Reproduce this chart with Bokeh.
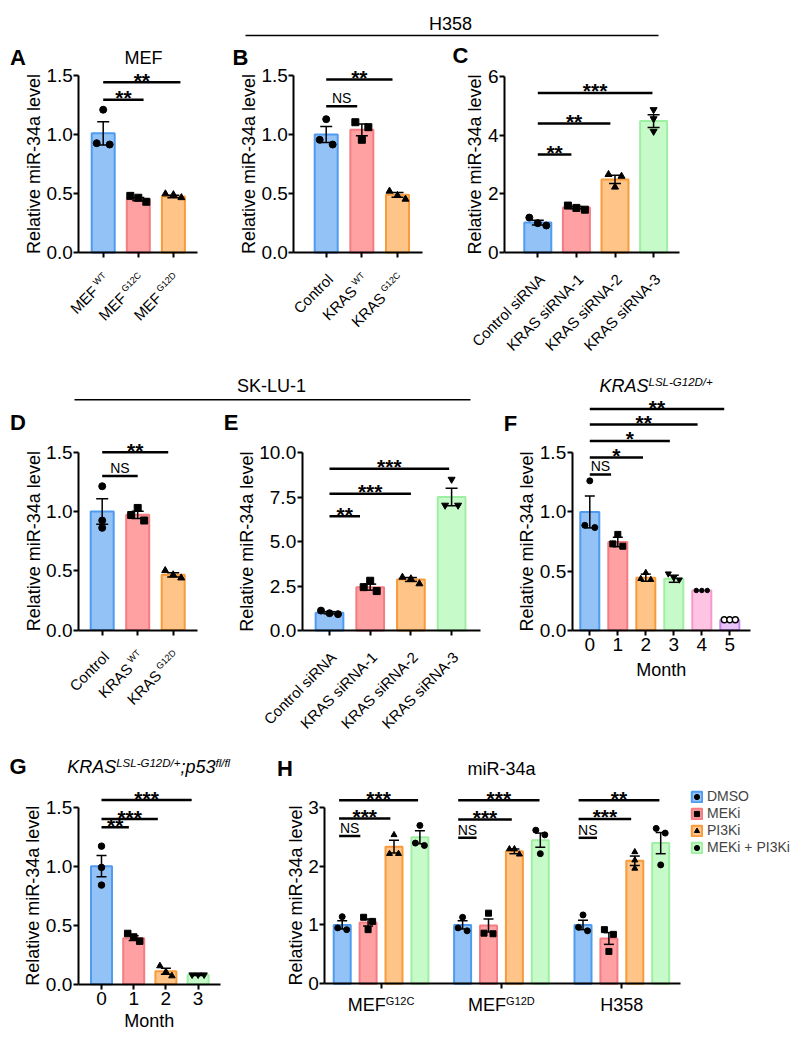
import math
from bokeh.plotting import figure
from bokeh.models import (Range1d, FixedTicker, NumeralTickFormatter, Label, LabelSet,
                          ColumnDataSource, Legend, LegendItem)
from bokeh.layouts import row, column
from bokeh.embed import file_html
from bokeh.resources import INLINE
from bokeh.core.properties import value

FONT = "Liberation Sans"
YLABEL = "Relative miR-34a level"

# ======================= DATA =======================
# A  MEF
A_names = ["MEF", "MEF", "MEF"]
A_sups = ["WT", "G12C", "G12D"]
A_mean = [1.01, 0.452, 0.475]
A_sem = [0.098, 0.014, 0.010]
A_pts = [[1.21, 0.926, 0.915], [0.48, 0.464, 0.43], [0.497, 0.49, 0.465]]
A_sig = [(0, 1.15, 1.294, "**"), (0, 2.2, 1.443, "**")]

# B  H358 overexpression
B_names = ["Control", "KRAS", "KRAS"]
B_sups = ["", "WT", "G12C"]
B_mean = [1.0, 1.04, 0.489]
B_sem = [0.068, 0.05, 0.02]
B_pts = [[1.13, 0.955, 0.915], [1.104, 1.062, 0.955], [0.52, 0.483, 0.452]]
B_sig = [(0, 0.87, 1.24, "NS"), (0, 1.86, 1.466, "**")]

# C  H358 siRNA
C_names = ["Control siRNA", "KRAS siRNA-1", "KRAS siRNA-2", "KRAS siRNA-3"]
C_sups = ["", "", "", ""]
C_mean = [1.02, 1.53, 2.49, 4.48]
C_sem = [0.08, 0.04, 0.14, 0.22]
C_pts = [[1.19, 1.0, 0.92], [1.6, 1.52, 1.46], [2.66, 2.6, 2.23], [4.87, 4.56, 4.13]]
C_sig = [(0, 0.87, 3.34, "**"), (0, 1.88, 4.40, "**"), (0, 2.97, 5.44, "***")]

# D  SK-LU-1 overexpression
D_names = ["Control", "KRAS", "KRAS"]
D_sups = ["", "WT", "G12D"]
D_mean = [1.0, 0.972, 0.466]
D_sem = [0.107, 0.03, 0.018]
D_pts = [[1.213, 0.924, 0.862], [1.03, 0.97, 0.924], [0.502, 0.466, 0.44]]
D_sig = [(0, 1.0, 1.30, "NS"), (0, 1.86, 1.5, "**")]

# E  SK-LU-1 siRNA
E_names = ["Control siRNA", "KRAS siRNA-1", "KRAS siRNA-2", "KRAS siRNA-3"]
E_sups = ["", "", "", ""]
E_mean = [1.0, 2.44, 2.87, 7.51]
E_sem = [0.06, 0.17, 0.11, 0.49]
E_pts = [[1.12, 0.97, 0.92], [2.8, 2.44, 2.22], [3.0, 2.91, 2.63], [8.51, 7.05, 7.05]]
E_sig = [(0, 0.75, 6.43, "**"), (0, 2.0, 7.7, "***"), (0, 2.94, 9.1, "***")]

# F  KRAS LSL-G12D/+ by month
F_months = [0, 1, 2, 3, 4, 5]
F_mean = [1.0, 0.746, 0.444, 0.435, 0.336, 0.088]
F_sem = [0.135, 0.04, 0.03, 0.03, 0.0, 0.0]
F_pts = [[1.263, 0.887, 0.868], [0.81, 0.73, 0.71], [0.486, 0.435, 0.427],
         [0.478, 0.444, 0.427], [0.336, 0.336, 0.336], [0.088, 0.088, 0.088]]
F_sig = [(0, 0.76, 1.317, "NS"), (0, 1.9, 1.46, "*"), (0, 2.86, 1.6, "*"),
         (0, 3.85, 1.74, "**"), (0, 4.8, 1.87, "**")]

# G  KRAS LSL-G12D/+;p53 fl/fl by month
G_months = [0, 1, 2, 3]
G_mean = [1.0, 0.39, 0.11, 0.077]
G_sem = [0.09, 0.02, 0.025, 0.004]
G_pts = [[1.17, 0.99, 0.84], [0.43, 0.40, 0.365], [0.155, 0.105, 0.07], [0.08, 0.08, 0.08]]
G_sig = [(0, 0.85, 1.33, "**"), (0, 1.75, 1.40, "***"), (0, 2.8, 1.56, "***")]

# H  inhibitors
H_groups = ["MEF", "MEF", "H358"]
H_group_sups = ["G12C", "G12D", ""]
H_treat = ["DMSO", "MEKi", "PI3Ki", "MEKi + PI3Ki"]
H_mean = [[1.0, 1.0, 1.0], [1.04, 0.99, 0.77], [2.33, 2.25, 2.09], [2.49, 2.44, 2.39]]
H_sem = [[0.07, 0.07, 0.08], [0.06, 0.11, 0.10], [0.11, 0.04, 0.08], [0.11, 0.12, 0.18]]
H_pts = [
    [[1.14, 0.95, 0.92], [1.13, 0.95, 0.90], [1.17, 0.96, 0.90]],
    [[1.13, 1.06, 0.92], [1.20, 0.86, 0.85], [0.92, 0.84, 0.55]],
    [[2.53, 2.21, 2.21], [2.29, 2.29, 2.20], [2.24, 2.10, 1.96]],
    [[2.69, 2.39, 2.35], [2.61, 2.53, 2.21], [2.64, 2.56, 2.02]],
]
H_sig = [
    [(-0.12, 0.7, 2.51, "NS"), (-0.12, 1.86, 2.81, "***"), (-0.12, 2.93, 3.12, "***")],
    [(-0.17, 0.54, 2.48, "NS"), (-0.17, 1.9, 2.79, "***"), (-0.17, 2.97, 3.12, "***")],
    [(-0.17, 0.54, 2.48, "NS"), (-0.17, 1.86, 2.8, "***"), (-0.17, 2.95, 3.12, "**")],
]

# ======================= STYLE =======================
PAL = {
    "blue": ("#93C2F7", "#4F9BF0"),
    "red": ("#FFA0A3", "#F57C82"),
    "orange": ("#FFC487", "#F79B3B"),
    "green": ("#C7FAC9", "#9FEFA3"),
    "pink": ("#FFC3E3", "#F49ACC"),
    "purple": ("#E8C4F8", "#C985F0"),
}
C3 = ["blue", "red", "orange"]
C4 = ["blue", "red", "orange", "green"]
C6 = ["blue", "red", "orange", "green", "pink", "purple"]
M3 = ["circle", "square", "triangle"]
M4 = ["circle", "square", "triangle", "inverted_triangle"]
M6 = ["circle", "square", "triangle", "inverted_triangle", "dot", "ring"]

TICK_FS = 19
W = {' ': 278, '-': 333, '.': 278, '/': 278, '+': 584, ';': 278, '*': 389}
W.update({d: 556 for d in "0123456789"})
W.update(dict(zip("ABCDEFGHIJKLMNOPQRSTUVWXYZ",
                  [667, 667, 722, 722, 667, 611, 778, 722, 278, 500, 667, 556, 833, 722, 778, 667,
                   778, 722, 667, 611, 722, 667, 944, 667, 667, 611])))
W.update(dict(zip("abcdefghijklmnopqrstuvwxyz",
                  [556, 556, 500, 556, 556, 278, 556, 556, 222, 222, 500, 222, 833, 556, 556, 556,
                   556, 333, 500, 278, 556, 500, 722, 500, 500, 500])))


def tw(s, fs):
    return sum(W.get(ch, 556) for ch in s) / 1000.0 * fs


class Geo:
    """screen geometry of one panel -> ranges of a figure whose frame fills it"""
    def __init__(self, fx, fy, fw, fh, ax, ay, ytop, ytop_px, x0, dx, xend):
        self.fx, self.fy, self.fw, self.fh = fx, fy, fw, fh
        self.ax, self.ay = ax, ay
        self.ytop, self.ytop_px = ytop, ytop_px
        self.ppy = (ay - ytop_px) / ytop
        self.x0, self.dx = x0, dx
        self.xlo = (fx - x0) / dx
        self.xhi = (fx + fw - x0) / dx
        self.ylo = (ay - (fy + fh)) / self.ppy
        self.yhi = (ay - fy) / self.ppy
        self.xaxis = (ax - x0) / dx
        self.xend = (xend - x0) / dx

    def X(self, sx):
        return (sx - self.x0) / self.dx

    def Y(self, sy):
        return (self.ay - sy) / self.ppy


def make_fig(g):
    p = figure(frame_width=g.fw, frame_height=g.fh, min_border=0,
               x_range=Range1d(g.xlo, g.xhi), y_range=Range1d(g.ylo, g.yhi),
               output_backend="svg", toolbar_location=None)
    p.outline_line_color = None
    p.grid.visible = False
    return p


def fmt_tick(t, fmt):
    return f"{t:.1f}" if fmt == "0.0" else f"{t:.0f}"


def style_axes(p, g, yticks, yfmt, xticks, hide_x_labels=True, xlabel=None, xlabel_y=None):
    yax, xax = p.yaxis[0], p.xaxis[0]
    for ax in (xax, yax):
        ax.axis_line_width = 2
        ax.axis_line_color = "black"
        ax.major_tick_line_width = 2
        ax.major_tick_line_color = "black"
        ax.major_tick_out = 5
        ax.major_tick_in = 0
        ax.minor_tick_out = 0
        ax.minor_tick_in = 0
        ax.major_label_text_font = FONT
        ax.major_label_text_font_size = f"{TICK_FS}px"
        ax.major_label_text_color = "black"
    yax.major_label_standoff = 1
    xax.major_label_standoff = 3
    yax.fixed_location = g.xaxis
    xax.fixed_location = 0
    yax.ticker = FixedTicker(ticks=yticks, minor_ticks=[])
    yax.formatter = NumeralTickFormatter(format=yfmt)
    yax.bounds = (0, yticks[-1])
    xax.ticker = FixedTicker(ticks=xticks, minor_ticks=[])
    xax.bounds = (g.xaxis, g.xend)
    if hide_x_labels:
        xax.major_label_overrides = {t: "" for t in xticks}
    widest = max(tw(fmt_tick(t, yfmt), TICK_FS) for t in yticks)
    cx = g.ax - 5 - 1 - widest - 6 - 6.5
    p.add_layout(Label(x=g.X(cx), y=g.ytop / 2, text=YLABEL, angle=math.pi / 2,
                       text_align="center", text_baseline="middle", text_font=FONT,
                       text_font_size="18px", text_color="black"))
    if xlabel:
        p.add_layout(Label(x=(g.xaxis + g.xend) / 2, y=g.Y(xlabel_y), text=xlabel,
                           text_align="center", text_baseline="middle", text_font=FONT,
                           text_font_size="18px", text_color="black"))


def swarm(vals, ppy, thr, d3, d2):
    n = len(vals)
    order = sorted(range(n), key=lambda i: -vals[i])
    clusters, cur = [], [order[0]]
    for a, b in zip(order, order[1:]):
        if (vals[a] - vals[b]) * ppy < thr:
            cur.append(b)
        else:
            clusters.append(cur)
            cur = [b]
    clusters.append(cur)
    off = [0.0] * n
    for cl in clusters:
        k = len(cl)
        if k == 1:
            continue
        step = d3 if k >= 3 else 2 * d2
        for r, idx in enumerate(cl):
            off[idx] = (r - (k - 1) / 2) * step
    return off


def errbars(p, xs, means, sems, cap):
    X, Y0, Y1, CX0, CX1, CY = [], [], [], [], [], []
    for x, m, s in zip(xs, means, sems):
        if s <= 0:
            continue
        X.append(x); Y0.append(m - s); Y1.append(m + s)
        for yy in (m - s, m + s):
            CX0.append(x - cap / 2); CX1.append(x + cap / 2); CY.append(yy)
    if X:
        p.segment(x0=X, y0=Y0, x1=X, y1=Y1, line_width=1.5, color="black")
        p.segment(x0=CX0, y0=CY, x1=CX1, y1=CY, line_width=1.5, color="black")


def draw_points(p, x, vals, mk, msize, g, d3, d2):
    offs = swarm(vals, g.ppy, 6.0, d3, d2)
    xs = [x + o / g.dx for o in offs]
    if mk == "dot":
        return p.scatter(xs, vals, marker="circle", size=msize * 0.75, color="black")
    if mk == "ring":
        return p.scatter(xs, vals, marker="circle", size=msize, fill_color="white",
                         line_color="black", line_width=1.4)
    return p.scatter(xs, vals, marker=mk, size=msize, color="black")


def brackets(p, sig):
    p.segment(x0=[s[0] for s in sig], y0=[s[2] for s in sig],
              x1=[s[1] for s in sig], y1=[s[2] for s in sig], line_width=2.5, color="black")
    stars = [s for s in sig if s[3] != "NS"]
    ns = [s for s in sig if s[3] == "NS"]
    if stars:
        src = ColumnDataSource(dict(x=[(s[0] + s[1]) / 2 for s in stars], y=[s[2] for s in stars],
                                    t=[s[3] for s in stars]))
        p.add_layout(LabelSet(source=src, x="x", y="y", text="t", y_offset=2,
                              text_align="center", text_baseline="middle",
                              text_font=value(FONT), text_font_size="21px",
                              text_font_style="bold", text_color="black"))
    if ns:
        src = ColumnDataSource(dict(x=[(s[0] + s[1]) / 2 for s in ns], y=[s[2] for s in ns],
                                    t=[s[3] for s in ns]))
        p.add_layout(LabelSet(source=src, x="x", y="y", text="t", y_offset=8,
                              text_align="center", text_baseline="middle",
                              text_font=value(FONT), text_font_size="14px", text_color="black"))


def rot_labels(p, names, sups, fs=15, sfs=9, ox=4, oy=24, raise_px=4):
    c = math.sqrt(0.5)
    m = dict(x=[], y=[], t=[], xo=[], yo=[])
    s = dict(x=[], y=[], t=[], xo=[], yo=[])
    for i, (nm, sp) in enumerate(zip(names, sups)):
        if sp:
            ws = tw(sp, sfs) + 0.2 * fs
            s["x"].append(i); s["y"].append(0); s["t"].append(sp)
            s["xo"].append(ox - c * raise_px); s["yo"].append(-oy + c * raise_px)
            m["x"].append(i); m["y"].append(0); m["t"].append(nm)
            m["xo"].append(ox - c * ws); m["yo"].append(-oy - c * ws)
        else:
            m["x"].append(i); m["y"].append(0); m["t"].append(nm)
            m["xo"].append(ox); m["yo"].append(-oy)
    for d, size in ((m, fs), (s, sfs)):
        if d["t"]:
            p.add_layout(LabelSet(source=ColumnDataSource(d), x="x", y="y", text="t",
                                  x_offset="xo", y_offset="yo", angle=math.pi / 4,
                                  text_align="right", text_baseline="middle",
                                  text_font=value(FONT), text_font_size=f"{size}px",
                                  text_color="black"))


def letter(p, g, txt, sx, sy):
    p.add_layout(Label(x=g.X(sx), y=g.Y(sy), text=txt, text_font=FONT, text_font_size="22px",
                       text_font_style="bold", text_align="center", text_baseline="middle",
                       text_color="black"))


def center_text(p, g, txt, sx, sy, fs=18):
    p.add_layout(Label(x=g.X(sx), y=g.Y(sy), text=txt, text_font=FONT, text_font_size=f"{fs}px",
                       text_align="center", text_baseline="middle", text_color="black"))


def rich_title(p, g, parts, sx, sy_mid, fs=18, sfs=11.5, raise_px=4):
    x = sx
    for text, sup in parts:
        size = sfs if sup else fs
        yb = sy_mid - (raise_px if sup else 0)
        p.add_layout(Label(x=g.X(x), y=g.Y(yb), text=text, text_font=FONT,
                           text_font_size=f"{size}px", text_font_style="italic",
                           text_align="left", text_baseline="middle", text_color="black"))
        x += tw(text, size)


def bar_panel(g, means, sems, pts, colors, markers, sig, yticks, yfmt,
              bar_px, cap_px, msize, d3, d2, xlabel=None, xlabel_y=None):
    p = make_fig(g)
    n = len(means)
    xs = list(range(n))
    src = ColumnDataSource(dict(x=xs, top=means,
                                fill=[PAL[c][0] for c in colors[:n]],
                                line=[PAL[c][1] for c in colors[:n]]))
    p.vbar(x="x", top="top", bottom=0, width=bar_px / g.dx, fill_color="fill",
           line_color="line", line_width=2, source=src)
    errbars(p, xs, means, sems, cap_px / g.dx)
    for i in range(n):
        draw_points(p, i, pts[i], markers[i], msize, g, d3, d2)
    brackets(p, sig)
    style_axes(p, g, yticks, yfmt, xs, hide_x_labels=(xlabel is None), xlabel=xlabel,
               xlabel_y=xlabel_y)
    return p


def header(fx, fy, fw, fh, text, tx, ty, lx0, lx1, ly):
    p = figure(width=fw, height=fh, x_range=Range1d(fx, fx + fw), y_range=Range1d(fy + fh, fy),
               min_border=0, toolbar_location=None, output_backend="svg",
               x_axis_location=None, y_axis_location=None)
    p.outline_line_color = None
    p.grid.visible = False
    p.segment(x0=[lx0], y0=[ly], x1=[lx1], y1=[ly], line_width=1.5, color="black")
    p.add_layout(Label(x=tx, y=ty, text=text, text_align="center", text_baseline="middle",
                       text_font=FONT, text_font_size="18px", text_color="black"))
    return p


# ======================= PANELS =======================
Y15 = [0, 0.5, 1.0, 1.5]
R1 = 356   # bottom of the first row of panels
HT = 39    # height of the H358 header strip

gA = Geo(0, 0, 225, R1, 78.3, 252, 1.5, 75, 102.7, 35.1, 197)
pA = bar_panel(gA, A_mean, A_sem, A_pts, C3, M3, A_sig, Y15, "0.0", 23, 12, 7, 8, 6.5)
rot_labels(pA, A_names, A_sups)
letter(pA, gA, "A", 17.5, 57)
center_text(pA, gA, "MEF", 143, 57)

hdr1 = header(225, 0, 567, HT, "H358", 450, 23, 245, 658, 35)

gB = Geo(225, HT, 220, R1 - HT, 293.3, 252, 1.5, 75, 325.7, 35.65, 422)
pB = bar_panel(gB, B_mean, B_sem, B_pts, C3, M3, B_sig, Y15, "0.0", 23, 12, 7, 8, 6.5)
rot_labels(pB, B_names, B_sups)
letter(pB, gB, "B", 240, 57)

gC = Geo(445, HT, 347, R1 - HT, 504, 252, 6, 76, 537.3, 38.6, 679)
pC = bar_panel(gC, C_mean, C_sem, C_pts, C4, M4, C_sig, [0, 2, 4, 6], "0", 27, 12, 7, 8.5, 6.5)
rot_labels(pC, C_names, C_sups)
letter(pC, gC, "C", 460, 55)

hdr2 = header(0, R1, 500, 410 - R1, "SK-LU-1", 271, 385, 74, 470, 399.3)

gD = Geo(0, 410, 215, 330, 78, 629.6, 1.5, 451.7, 101.7, 35.5, 197)
pD = bar_panel(gD, D_mean, D_sem, D_pts, C3, M3, D_sig, Y15, "0.0", 23, 12, 7, 8, 6.5)
rot_labels(pD, D_names, D_sups)
letter(pD, gD, "D", 17.5, 422)

gE = Geo(215, 410, 285, 330, 301.7, 630, 10, 452.3, 329, 40.7, 480)
pE = bar_panel(gE, E_mean, E_sem, E_pts, C4, M4, E_sig, [0, 2.5, 5, 7.5, 10], "0.0",
               27.7, 12, 7, 8.5, 6.5)
rot_labels(pE, E_names, E_sups)
letter(pE, gE, "E", 230.5, 422)

gF = Geo(500, R1, 292, 740 - R1, 571.7, 629.7, 1.5, 452.3, 589.3, 28, 750)
pF = bar_panel(gF, F_mean, F_sem, F_pts, C6, M6, F_sig, Y15, "0.0", 19, 10, 6, 5.5, 5,
               xlabel="Month", xlabel_y=669)
pF.xaxis[0].major_label_overrides = {i: str(m) for i, m in enumerate(F_months)}
letter(pF, gF, "F", 510, 423)
rich_title(pF, gF, [("KRAS", False), ("LSL-G12D/+", True)], 599, 385)

gG = Geo(0, 740, 270, 300, 77.7, 983.7, 1.5, 806.7, 101, 32.2, 220)
pG = bar_panel(gG, G_mean, G_sem, G_pts, C4, M4, G_sig, Y15, "0.0", 21, 10, 6.5, 6, 5,
               xlabel="Month", xlabel_y=1020)
pG.xaxis[0].major_label_overrides = {i: str(m) for i, m in enumerate(G_months)}
letter(pG, gG, "G", 17.5, 766)
rich_title(pG, gG, [("KRAS", False), ("LSL-G12D/+", True), (";p53", False), ("fl/fl", True)],
           66.7, 766)

# ---- H ----
gH = Geo(270, 740, 522, 300, 324.3, 983.3, 3, 806.7, 341.7, 25.9, 680)
pH = make_fig(gH)
GS = 120.4 / 25.9
H_cols = ["blue", "red", "orange", "green"]
H_marks = ["circle", "square", "triangle", "circle"]
items = []
for j, t in enumerate(H_treat):
    xs = [gi * GS + j for gi in range(len(H_groups))]
    rb = pH.vbar(x=xs, top=H_mean[j], bottom=0, width=17 / gH.dx, fill_color=PAL[H_cols[j]][0],
                 line_color=PAL[H_cols[j]][1], line_width=2)
    errbars(pH, xs, H_mean[j], H_sem[j], 10 / gH.dx)
    px, py = [], []
    for gi in range(len(H_groups)):
        offs = swarm(H_pts[j][gi], gH.ppy, 6.0, 5, 4.5)
        px += [xs[gi] + o / gH.dx for o in offs]
        py += H_pts[j][gi]
    rp = pH.scatter(px, py, marker=H_marks[j], size=6, color="black")
    items.append(LegendItem(label=t, renderers=[rb, rp]))
for gi in range(len(H_groups)):
    brackets(pH, [(gi * GS + a, gi * GS + b, y, lab) for a, b, y, lab in H_sig[gi]])
gctr = [gi * GS + 1.5 for gi in range(len(H_groups))]
style_axes(pH, gH, [0, 1, 2, 3], "0", gctr)
mn = dict(x=[], y=[], t=[], xo=[])
sp = dict(x=[], y=[], t=[], xo=[])
for gi, (nm, su) in enumerate(zip(H_groups, H_group_sups)):
    wm, ws = tw(nm, 18), tw(su, 11)
    junction = -(wm + ws) / 2 + wm
    mn["x"].append(gctr[gi]); mn["y"].append(0); mn["t"].append(nm); mn["xo"].append(junction)
    if su:
        sp["x"].append(gctr[gi]); sp["y"].append(0); sp["t"].append(su); sp["xo"].append(junction)
pH.add_layout(LabelSet(source=ColumnDataSource(mn), x="x", y="y", text="t", x_offset="xo",
                       y_offset=-20.7, text_align="right", text_baseline="middle",
                       text_font=value(FONT), text_font_size="18px", text_color="black"))
pH.add_layout(LabelSet(source=ColumnDataSource(sp), x="x", y="y", text="t", x_offset="xo",
                       y_offset=-17.4, text_align="left", text_baseline="middle",
                       text_font=value(FONT), text_font_size="11px", text_color="black"))
letter(pH, gH, "H", 284.5, 768)
center_text(pH, gH, "miR-34a", 501, 768)
leg = Legend(items=items, location=(420, 185), glyph_width=13, glyph_height=13, spacing=1,
             padding=0, margin=0, label_standoff=4, label_text_font=FONT,
             label_text_font_size="14px", label_height=15, border_line_color=None,
             background_fill_alpha=0)
pH.add_layout(leg)

layout = column(
    row(pA, column(hdr1, row(pB, pC))),
    row(column(hdr2, row(pD, pE)), pF),
    row(pG, pH),
)

open("out.html", "w").write(file_html(layout, INLINE, title="miR-34a"))
